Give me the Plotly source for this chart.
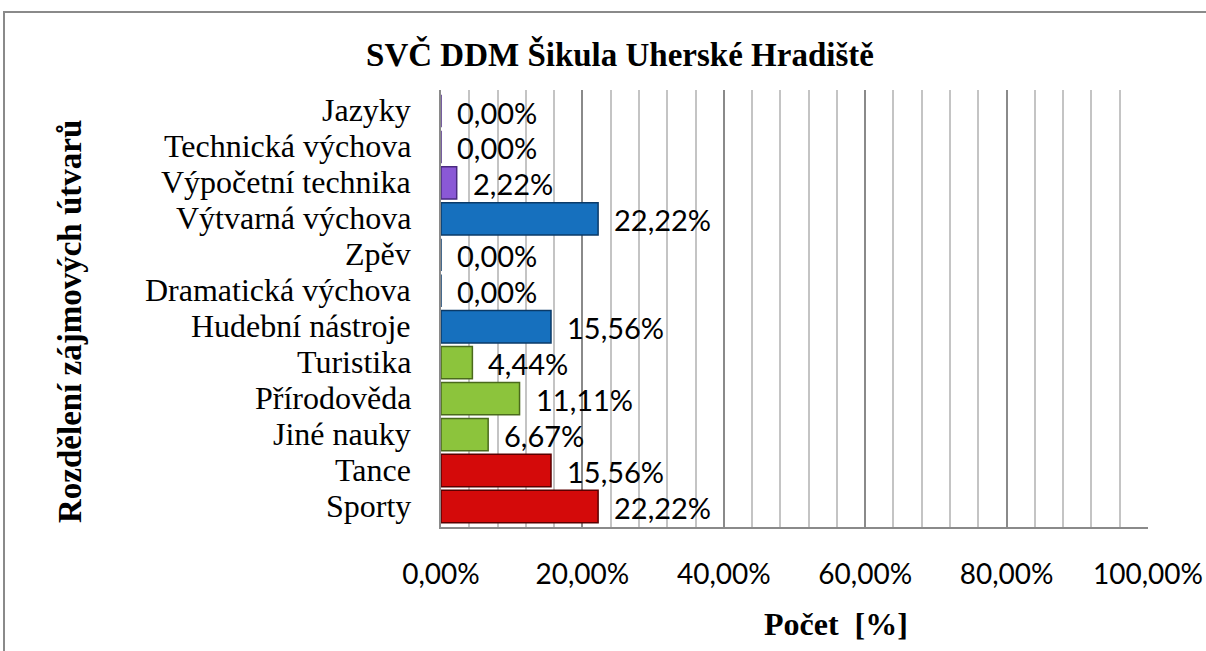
import plotly.graph_objects as go

categories = ["Sporty", "Tance", "Jiné nauky", "Přírodověda", "Turistika",
              "Hudební nástroje", "Dramatická výchova", "Zpěv",
              "Výtvarná výchova", "Výpočetní technika", "Technická výchova", "Jazyky"]
values = [0.2222, 0.1556, 0.0667, 0.1111, 0.0444, 0.1556, 0.0, 0.0,
          0.2222, 0.0222, 0.0, 0.0]
labels = ["22,22%", "15,56%", "6,67%", "11,11%", "4,44%", "15,56%", "0,00%", "0,00%",
          "22,22%", "2,22%", "0,00%", "0,00%"]
fill_colors = ["#D40A0A", "#D40A0A", "#8CC43C", "#8CC43C", "#8CC43C",
               "#1670BE", "#1670BE", "#1670BE", "#1670BE", "#8A58D6", "#8A58D6", "#8A58D6"]
edge_colors = ["#5A0000", "#5A0000", "#4A6A1C", "#4A6A1C", "#4A6A1C",
               "#0A3A68", "#0A3A68", "#0A3A68", "#0A3A68", "#4A2A80", "#4A2A80", "#4A2A80"]
x_ticks = [0, 0.2, 0.4, 0.6, 0.8, 1.0]
x_ticklabels = ["0,00%", "20,00%", "40,00%", "60,00%", "80,00%", "100,00%"]

L, R, T, B = 441, 1148, 90, 527
PW, PH = R - L, B - T

fig = go.Figure()
fig.add_trace(go.Bar(
    y=categories, x=values, orientation="h",
    marker=dict(color=fill_colors, line=dict(color=edge_colors, width=1.5)),
    width=0.9, showlegend=False, hoverinfo="skip",
))

# data labels
for c, v, t in zip(categories, values, labels):
    fig.add_annotation(x=v, y=c, text=t, showarrow=False, xanchor="left",
                       xshift=14, yshift=-1,
                       font=dict(family="Lato", size=29, color="#000000"))

# category labels (as text placed at the category positions)
for c in categories:
    fig.add_annotation(xref="paper", yref="y", x=(413 - L) / PW, y=c, text=c,
                       showarrow=False, xanchor="right", yanchor="middle", yshift=1,
                       font=dict(family="Liberation Serif", size=32, color="#000000"))

fig.add_annotation(xref="paper", yref="paper",
                   x=(70 - L) / PW, y=(B - 322) / PH,
                   text="<b>Rozdělení zájmových útvarů</b>", textangle=-90,
                   showarrow=False, xanchor="center", yanchor="middle",
                   font=dict(family="Liberation Serif", size=33, color="#000000"))
fig.add_annotation(xref="paper", yref="paper",
                   x=(836 - L) / PW, y=(B - 624) / PH,
                   text="<b>Počet  [%]</b>",
                   showarrow=False, xanchor="center", yanchor="middle",
                   font=dict(family="Liberation Serif", size=32, color="#000000"))

fig.update_layout(
    width=1206, height=651,
    margin=dict(l=L, r=1206 - R, t=T, b=651 - B, autoexpand=False),
    paper_bgcolor="white", plot_bgcolor="white",
    title=dict(text="<b>SVČ DDM Šikula Uherské Hradiště</b>",
               x=620/1206, xanchor="center", y=1 - 54/651, yanchor="middle",
               font=dict(family="Liberation Serif", size=33, color="#000000")),
    xaxis=dict(range=[0, 1.0], tickvals=x_ticks, ticktext=x_ticklabels,
               showgrid=True, gridcolor="#8A8A8A", gridwidth=1.5,
               minor=dict(dtick=0.04, showgrid=True, gridcolor="#C4C4C4", gridwidth=1.5),
               showline=True, linecolor="#8A8A8A", linewidth=1.5,
               ticks="", zeroline=False, automargin=False, ticklabelstandoff=22,
               tickfont=dict(family="Lato", size=28, color="#000000")),
    yaxis=dict(categoryorder="array", categoryarray=categories,
               showline=True, linecolor="#8A8A8A", linewidth=1.5,
               showgrid=False, ticks="", showticklabels=False, automargin=False),
    bargap=0.08,
)

fig.add_shape(type="rect", xref="paper", yref="paper",
              x0=(4 - L) / PW, x1=(1215 - L) / PW,
              y0=-0.35, y1=(B - 12) / PH,
              line=dict(color="#8A8A8A", width=2), fillcolor="rgba(0,0,0,0)", layer="below")

fig.write_html("out.html", config={"displayModeBar": False},
               post_script="document.body.style.margin='0';document.body.style.overflow='hidden';")
